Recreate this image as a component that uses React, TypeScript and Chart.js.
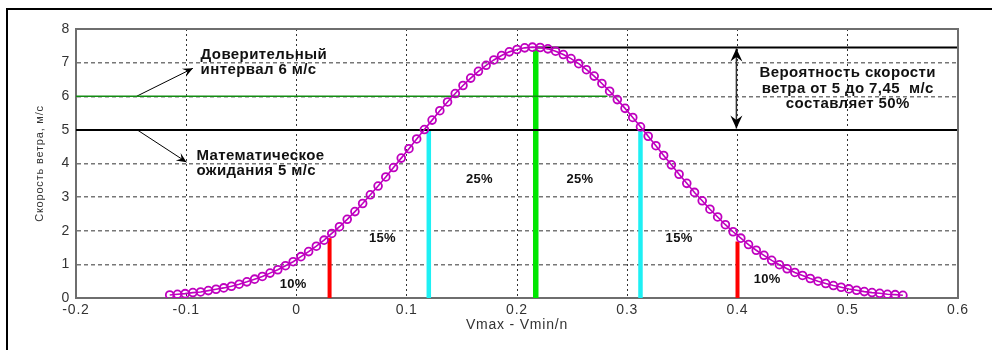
import React, { useEffect, useRef } from "react";
import { Chart, registerables } from "chart.js";

Chart.register(...registerables);

// ---- curve ----
const curveX = [
  -0.115, -0.108, -0.101, -0.094, -0.087, -0.08, -0.073, -0.066, -0.059, -0.052,
  -0.045, -0.038, -0.031, -0.024, -0.017, -0.01, -0.003, 0.004, 0.011, 0.018,
  0.025, 0.032, 0.039, 0.046, 0.053, 0.06, 0.067, 0.074, 0.081, 0.088,
  0.095, 0.102, 0.109, 0.116, 0.123, 0.13, 0.137, 0.144, 0.151, 0.158,
  0.165, 0.172, 0.179, 0.186, 0.193, 0.2, 0.207, 0.214, 0.221, 0.228,
  0.235, 0.242, 0.249, 0.256, 0.263, 0.27, 0.277, 0.284, 0.291, 0.298,
  0.305, 0.312, 0.319, 0.326, 0.333, 0.34, 0.347, 0.354, 0.361, 0.368,
  0.375, 0.382, 0.389, 0.396, 0.403, 0.41, 0.417, 0.424, 0.431, 0.438,
  0.445, 0.452, 0.459, 0.466, 0.473, 0.48, 0.487, 0.494, 0.501, 0.508,
  0.515, 0.522, 0.529, 0.536, 0.543, 0.55,
];
const curveY = [
  0.09, 0.11, 0.13, 0.16, 0.18, 0.22, 0.26, 0.3, 0.35, 0.41,
  0.48, 0.56, 0.64, 0.74, 0.84, 0.96, 1.08, 1.23, 1.38, 1.54,
  1.72, 1.92, 2.12, 2.34, 2.57, 2.81, 3.07, 3.33, 3.6, 3.88,
  4.16, 4.44, 4.73, 5.01, 5.29, 5.57, 5.83, 6.08, 6.32, 6.54,
  6.74, 6.92, 7.08, 7.21, 7.32, 7.39, 7.44, 7.46, 7.45, 7.41,
  7.34, 7.24, 7.12, 6.97, 6.79, 6.6, 6.38, 6.15, 5.9, 5.64,
  5.37, 5.09, 4.81, 4.53, 4.24, 3.96, 3.68, 3.41, 3.14, 2.89,
  2.64, 2.41, 2.18, 1.97, 1.78, 1.59, 1.42, 1.27, 1.12, 0.99,
  0.87, 0.76, 0.67, 0.58, 0.5, 0.43, 0.37, 0.32, 0.27, 0.23,
  0.19, 0.16, 0.14, 0.11, 0.1, 0.08,
];

// ---- vertical probability bars ----
const barX = [0.03, 0.12, 0.217, 0.312, 0.4];
const barTop = [1.78, 5.0, 7.38, 5.0, 1.68];
const barColors = ["#ff0000", "#1ef0f4", "#00e600", "#1ef0f4", "#ff0000"];
const barWidths = [4, 4.5, 5.5, 4.5, 4];

// ---- horizontal reference lines ----
const hLineY = [5, 6, 7.45];
const hLineFrom = [-0.2, -0.2, 0.217];
const hLineTo = [0.6, 0.282, 0.6];
const hLineColors = ["#000000", "#128c12", "#000000"];
const hLineWidths = [2, 1.5, 2];

// ---- percentage labels ----
const pctLabels = ["10%", "15%", "25%", "25%", "15%", "10%"];
const pctX = [-0.003, 0.078, 0.166, 0.257, 0.347, 0.427];
const pctY = [0.4, 1.78, 3.54, 3.54, 1.78, 0.54];

// ---- callout arrows ----
const arrowFromX = [-0.145, -0.1445];
const arrowFromY = [6, 5];
const arrowToX = [-0.094, -0.0997];
const arrowToY = [6.83, 4.04];

const rangeArrowX = 0.399;
const rangeArrowY = [5.04, 7.42];

// ---- notes ----
const note1Lines = ["Доверительный", "интервал 6 м/с"];
const note1X = -0.087;
const note1Y = [7.094, 6.649];
const note2Lines = ["Математическое", "ожидания 5 м/с"];
const note2X = -0.0907;
const note2Y = [4.109, 3.663];
const note3Lines = ["Вероятность скорости", "ветра от 5 до 7,45  м/с", "составляет 50%"];
const note3X = 0.5;
const note3Y = [6.566, 6.108, 5.645];

const xTitle = "Vmax - Vmin/n";
const yTitle = "Скорость ветра, м/с";

const FONT = "'Liberation Sans', Arial, sans-serif";

function arrowHead(
  ctx: CanvasRenderingContext2D,
  fx: number, fy: number, tx: number, ty: number,
  len: number, half: number, back: number
) {
  const dx = tx - fx, dy = ty - fy;
  const d = Math.hypot(dx, dy) || 1;
  const ux = dx / d, uy = dy / d;
  const nx = -uy, ny = ux;
  ctx.beginPath();
  ctx.moveTo(tx, ty);
  ctx.lineTo(tx - ux * len + nx * half, ty - uy * len + ny * half);
  ctx.lineTo(tx - ux * len * back, ty - uy * len * back);
  ctx.lineTo(tx - ux * len - nx * half, ty - uy * len - ny * half);
  ctx.closePath();
  ctx.fill();
}

const spacingPlugin = {
  id: "spacing",
  beforeDraw(chart: any) {
    (chart.ctx as any).letterSpacing = "0.8px";
  },
};

const decorPlugin = {
  id: "decor",
  afterDatasetsDraw(chart: any) {
    const { ctx, chartArea: a, scales } = chart;
    const xs = scales.x, ys = scales.y;
    ctx.save();
    // axes box top / right
    ctx.strokeStyle = "#6e6e6e";
    ctx.lineWidth = 2;
    ctx.beginPath();
    ctx.moveTo(a.left, a.top);
    ctx.lineTo(a.right, a.top);
    ctx.lineTo(a.right, a.bottom);
    ctx.stroke();
    // outer figure frame
    ctx.strokeStyle = "#000";
    ctx.lineWidth = 2;
    ctx.beginPath();
    ctx.moveTo(7, chart.height);
    ctx.lineTo(7, 9);
    ctx.lineTo(chart.width, 9);
    ctx.stroke();

    // arrow heads
    ctx.fillStyle = "#000";
    for (let i = 0; i < arrowFromX.length; i++) {
      arrowHead(
        ctx,
        xs.getPixelForValue(arrowFromX[i]), ys.getPixelForValue(arrowFromY[i]),
        xs.getPixelForValue(arrowToX[i]), ys.getPixelForValue(arrowToY[i]),
        10, 4.5, 0.6
      );
    }
    const rx = xs.getPixelForValue(rangeArrowX);
    const ry0 = ys.getPixelForValue(rangeArrowY[0]);
    const ry1 = ys.getPixelForValue(rangeArrowY[1]);
    arrowHead(ctx, rx, ry1, rx, ry0, 13, 6, 0.65);
    arrowHead(ctx, rx, ry0, rx, ry1, 13, 6, 0.65);

    // percentage labels
    ctx.fillStyle = "#111";
    (ctx as any).letterSpacing = "0.3px";
    ctx.font = `bold 13px ${FONT}`;
    ctx.textAlign = "center";
    ctx.textBaseline = "middle";
    for (let i = 0; i < pctLabels.length; i++) {
      ctx.fillText(pctLabels[i], xs.getPixelForValue(pctX[i]), ys.getPixelForValue(pctY[i]));
    }

    // notes
    (ctx as any).letterSpacing = "0.4px";
    ctx.font = `bold 15px ${FONT}`;
    ctx.textBaseline = "alphabetic";
    ctx.textAlign = "left";
    note1Lines.forEach((t, i) =>
      ctx.fillText(t, xs.getPixelForValue(note1X), ys.getPixelForValue(note1Y[i]))
    );
    note2Lines.forEach((t, i) =>
      ctx.fillText(t, xs.getPixelForValue(note2X), ys.getPixelForValue(note2Y[i]))
    );
    ctx.textAlign = "center";
    note3Lines.forEach((t, i) =>
      ctx.fillText(t, xs.getPixelForValue(note3X), ys.getPixelForValue(note3Y[i]))
    );
    ctx.restore();
  },
};

function segment(points: { x: number; y: number }[], color: string, width: number) {
  return {
    data: points,
    showLine: true,
    borderColor: color,
    backgroundColor: color,
    borderWidth: width,
    pointRadius: 0,
    pointHoverRadius: 0,
    borderCapStyle: "butt" as const,
    fill: false,
  };
}

export default function App() {
  const ref = useRef<HTMLCanvasElement | null>(null);

  useEffect(() => {
    if (!ref.current) return;
    const datasets: any[] = [];
    datasets.push({
      data: curveX.map((x, i) => ({ x, y: curveY[i] })),
      showLine: true,
      borderColor: "#bf00bf",
      borderWidth: 1.6,
      pointRadius: 3.9,
      pointBorderWidth: 1.8,
      pointBorderColor: "#bf00bf",
      pointBackgroundColor: "rgba(0,0,0,0)",
      pointStyle: "circle",
      tension: 0,
      fill: false,
    });
    for (let i = 0; i < hLineY.length; i++) {
      datasets.push(
        segment(
          [
            { x: hLineFrom[i], y: hLineY[i] },
            { x: hLineTo[i], y: hLineY[i] },
          ],
          hLineColors[i],
          hLineWidths[i]
        )
      );
    }
    for (let i = 0; i < barX.length; i++) {
      datasets.push(
        segment(
          [
            { x: barX[i], y: 0 },
            { x: barX[i], y: barTop[i] },
          ],
          barColors[i],
          barWidths[i]
        )
      );
    }
    for (let i = 0; i < arrowFromX.length; i++) {
      datasets.push(
        segment(
          [
            { x: arrowFromX[i], y: arrowFromY[i] },
            { x: arrowToX[i], y: arrowToY[i] },
          ],
          "#000",
          1
        )
      );
    }
    datasets.push(
      segment(
        [
          { x: rangeArrowX, y: rangeArrowY[0] },
          { x: rangeArrowX, y: rangeArrowY[1] },
        ],
        "#333",
        1.5
      )
    );

    const chart = new Chart(ref.current, {
      type: "scatter",
      data: { datasets },
      options: {
        animation: false,
        responsive: false,
        events: [],
        layout: { padding: { left: 0, top: 29, right: 34, bottom: 0 } },
        plugins: { legend: { display: false }, tooltip: { enabled: false } },
        scales: {
          x: {
            type: "linear",
            min: -0.2,
            max: 0.6,
            afterFit: (s: any) => {
              s.height = 52;
            },
            ticks: {
              stepSize: 0.1,
              padding: 4,
              color: "#333",
              font: { family: FONT, size: 14 },
              callback: (v: any) => String(Math.round(Number(v) * 10) / 10),
            },
            grid: { color: "#333", lineWidth: 1, drawTicks: false },
            border: { display: true, color: "#6e6e6e", width: 2, dash: [2, 3] },
            title: {
              display: true,
              text: xTitle,
              color: "#333",
              font: { family: FONT, size: 14 },
              padding: { top: 0, bottom: 16 },
            },
          },
          y: {
            type: "linear",
            min: 0,
            max: 8,
            afterFit: (s: any) => {
              s.width = 76;
            },
            ticks: {
              stepSize: 1,
              padding: 6,
              color: "#333",
              font: { family: FONT, size: 14 },
            },
            grid: { color: "#777", lineWidth: 1.5, drawTicks: false },
            border: { display: true, color: "#6e6e6e", width: 2, dash: [4, 3] },
            title: {
              display: true,
              text: yTitle,
              color: "#333",
              font: { family: FONT, size: 11 },
              padding: { top: 33, bottom: 0 },
            },
          },
        },
      },
      plugins: [spacingPlugin, decorPlugin],
    });
    return () => chart.destroy();
  }, []);

  return (
    <div style={{ position: "absolute", left: 0, top: 0, width: 992, height: 350, background: "#fff" }}>
      <canvas ref={ref} width={992} height={350} style={{ display: "block" }} />
    </div>
  );
}
